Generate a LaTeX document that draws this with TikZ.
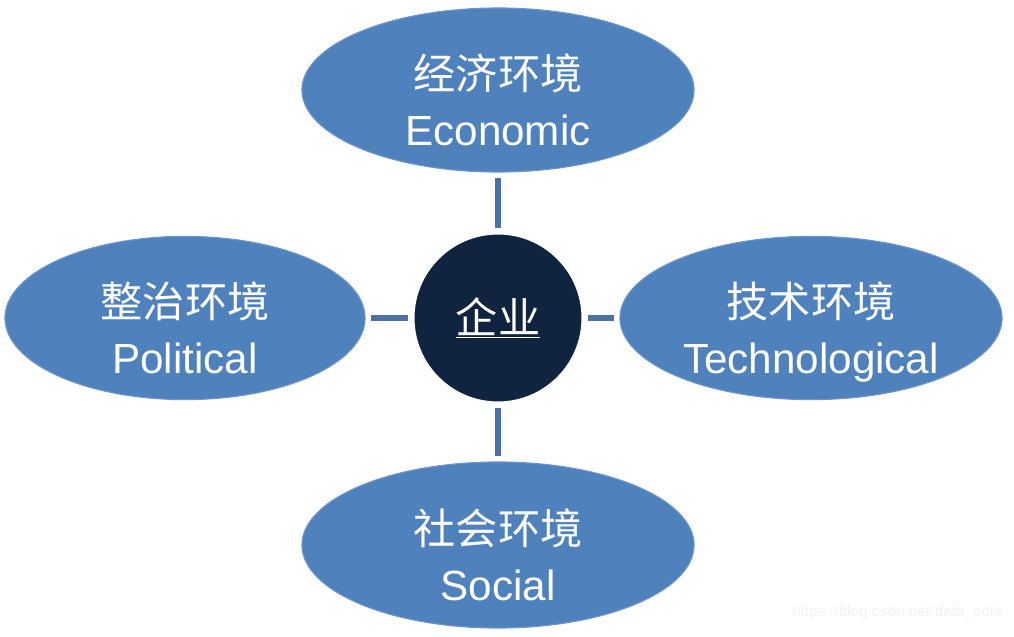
\documentclass[tikz,border=0pt]{standalone}
\usepackage{fontspec}
\setmainfont{Liberation Sans}
\newfontfamily\cjk{Noto Sans CJK SC}
\usetikzlibrary{shapes.geometric}

\definecolor{envblue}{HTML}{4F81BD}
\definecolor{envrim}{HTML}{6C96CB}
\definecolor{firmnavy}{HTML}{10243F}
\definecolor{linkblue}{HTML}{4A72A8}

% two-line label, set a little below the centre
\newcommand\envtext[2]{\raisebox{-18pt}[0pt][0pt]{\begin{tabular}{@{}c@{}}{\cjk #1}\\#2\end{tabular}}}

\tikzset{
  env/.style={ellipse, fill=envblue, draw=envrim, line width=0.8pt, text=white,
    inner sep=0pt, font=\fontsize{30}{40}\selectfont},
  firm/.style={circle, fill=firmnavy, draw=white, line width=0.8pt, text=white,
    inner sep=0pt, minimum size=4.2cm, font=\cjk\fontsize{30}{36}\selectfont},
  link/.style={draw=linkblue, line width=4.3pt, shorten >=4pt, shorten <=4pt}
}

\begin{document}
\begin{tikzpicture}[x=0.025cm, y=-0.025cm]
  \useasboundingbox (0,0) rectangle (1014,637);

  % centre
  \node[firm] (firm) at (498,318) {\underline{企业}};

  % four environments
  \node[env, minimum width=9.8cm, minimum height=4.1cm] (eco) at (498,90)
    {\envtext{经济环境}{Economic}};
  \node[env, minimum width=9.0cm, minimum height=4.08cm] (pol) at (185,318)
    {\envtext{整治环境}{Political}};
  \node[env, minimum width=9.55cm, minimum height=4.08cm] (tech) at (811,318)
    {\envtext{技术环境}{Technological}};
  \node[env, minimum width=9.8cm, minimum height=4.15cm] (soc) at (498,545)
    {\envtext{社会环境}{Social}};

  % links
  \foreach \env in {eco,pol,tech,soc}
    \draw[link] (\env) -- (firm);

  \node[text=gray!10, font=\fontsize{11}{13}\selectfont] (mark) at (897,612)
    {https://blog.csdn.net/data\_cola};
\end{tikzpicture}
\end{document}
